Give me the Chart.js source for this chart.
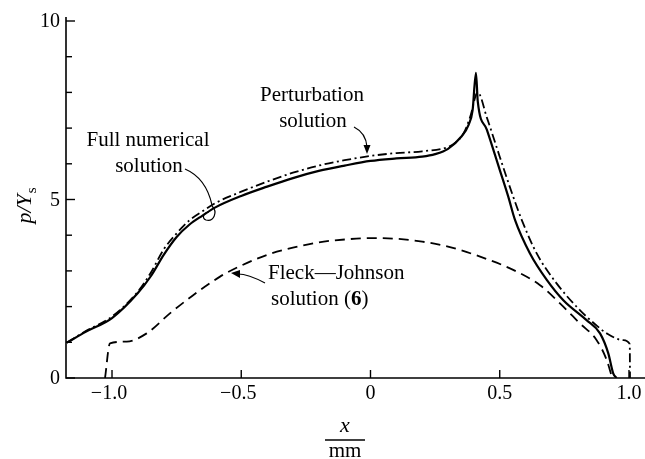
<!DOCTYPE html>
<html>
<head>
<meta charset="utf-8">
<script src="https://cdn.jsdelivr.net/npm/chart.js@4.4.1/dist/chart.umd.min.js"></script>
<style>
html,body{margin:0;padding:0;background:#fff;}
#wrap{width:645px;height:459px;position:relative;}
</style>
</head>
<body>
<div id="wrap"><canvas id="c" width="645" height="459"></canvas></div>
<script>
// ---- data ----
const fullX = [-1.175,-1.1,-1.0,-0.9,-0.85,-0.8,-0.75,-0.7,-0.65,-0.6,-0.5,-0.4,-0.3,-0.2,-0.1,0.0,0.1,0.2,0.25,0.3,0.35,0.38,0.395,0.408,0.415,0.45,0.5,0.533,0.559,0.617,0.682,0.746,0.836,0.888,0.92,0.939,0.952];
const fullY = [0.99,1.3,1.68,2.38,2.85,3.45,3.95,4.3,4.55,4.78,5.1,5.36,5.6,5.8,5.95,6.08,6.15,6.2,6.27,6.42,6.75,7.1,7.5,8.55,7.75,6.96,5.83,5.08,4.43,3.49,2.75,2.18,1.62,1.25,0.69,0.13,0.0];

const pertX = [-1.175,-1.1,-1.0,-0.9,-0.85,-0.8,-0.75,-0.7,-0.65,-0.6,-0.5,-0.4,-0.3,-0.2,-0.1,0.0,0.1,0.2,0.3,0.33,0.36,0.385,0.415,0.45,0.5,0.552,0.585,0.643,0.72,0.81,0.87,0.914,0.978,1.003,1.004];
const pertY = [0.99,1.32,1.72,2.42,2.95,3.6,4.05,4.42,4.67,4.9,5.22,5.5,5.75,5.95,6.1,6.22,6.3,6.35,6.47,6.6,6.85,7.3,8.0,7.3,6.2,5.08,4.43,3.49,2.65,1.9,1.5,1.25,1.06,0.95,0.0];

const fjX = [-1.027,-1.008,-0.943,-0.866,-0.776,-0.686,-0.582,-0.5,-0.4,-0.3,-0.2,-0.1,0.0,0.1,0.2,0.3,0.424,0.552,0.656,0.733,0.81,0.875,0.914,0.935];
const fjY = [0.0,0.97,1.02,1.25,1.81,2.32,2.84,3.15,3.45,3.65,3.8,3.88,3.92,3.9,3.82,3.68,3.4,3.03,2.6,2.09,1.53,1.06,0.5,0.0];

const xTickValues = [-1.0,-0.5,0,0.5,1.0];
const xTickLabels = ['\u22121.0','\u22120.5','0','0.5','1.0'];
const yTickValues = [0,5,10];
const yTickLabels = ['0','5','10'];
const yMinorValues = [1,2,3,4,6,7,8,9];

const pts = (xs, ys) => xs.map((x, i) => ({x: x, y: ys[i]}));

const SERIF = '"Liberation Serif","DejaVu Serif",serif';

const deco = {
  id: 'deco',
  afterDatasetsDraw(chart) {
    const ctx = chart.ctx;
    const xs = chart.scales.x, ys = chart.scales.y;
    const L = xs.left, R = chart.width, B = ys.bottom, T = ys.top;
    ctx.save();
    ctx.strokeStyle = '#000';
    ctx.fillStyle = '#000';
    ctx.lineWidth = 1.6;
    ctx.beginPath();
    ctx.moveTo(L, T - 4); ctx.lineTo(L, B); ctx.lineTo(R, B);
    ctx.stroke();
    ctx.lineWidth = 1.4;
    yTickValues.forEach(v => {
      const p = ys.getPixelForValue(v);
      ctx.beginPath(); ctx.moveTo(L, p); ctx.lineTo(L + 9, p); ctx.stroke();
    });
    yMinorValues.forEach(v => {
      const p = ys.getPixelForValue(v);
      ctx.beginPath(); ctx.moveTo(L, p); ctx.lineTo(L + 6, p); ctx.stroke();
    });
    xTickValues.forEach(v => {
      const p = xs.getPixelForValue(v);
      ctx.beginPath(); ctx.moveTo(p, B); ctx.lineTo(p, B - 8); ctx.stroke();
    });
    ctx.font = '20px ' + SERIF;
    ctx.textAlign = 'right'; ctx.textBaseline = 'middle';
    yTickValues.forEach((v, i) => {
      ctx.fillText(yTickLabels[i], L - 6, ys.getPixelForValue(v) + 1);
    });
    ctx.textAlign = 'center'; ctx.textBaseline = 'alphabetic';
    xTickValues.forEach((v, i) => {
      const lab = xTickLabels[i];
      let dx = 0;
      if (lab.charAt(0) === '\u2212') dx = -3;
      ctx.fillText(lab, xs.getPixelForValue(v) + dx, B + 21);
    });
    ctx.save();
    ctx.translate(31, 206);
    ctx.rotate(-Math.PI / 2);
    ctx.font = 'italic 22px ' + SERIF;
    ctx.textAlign = 'left'; ctx.textBaseline = 'alphabetic';
    const t1 = 'p/Y';
    const w1 = ctx.measureText(t1).width;
    ctx.font = '15px ' + SERIF;
    const w2 = ctx.measureText('s').width;
    const start = -(w1 + w2) / 2;
    ctx.font = 'italic 22px ' + SERIF;
    ctx.fillText(t1, start, 0);
    ctx.font = '15px ' + SERIF;
    ctx.fillText('s', start + w1 + 1, 5);
    ctx.restore();
    const cx = 345;
    ctx.font = 'italic 22px ' + SERIF;
    ctx.textAlign = 'center';
    ctx.fillText('x', cx, 432);
    ctx.lineWidth = 1.3;
    ctx.beginPath(); ctx.moveTo(cx - 20, 440); ctx.lineTo(cx + 20, 440); ctx.stroke();
    ctx.font = '21px ' + SERIF;
    ctx.fillText('mm', cx, 457);

    ctx.font = '21px ' + SERIF;
    ctx.textAlign = 'center';
    ctx.fillText('Full numerical', 148, 146);
    ctx.fillText('solution', 149, 172);
    ctx.fillText('Perturbation', 312, 101);
    ctx.fillText('solution', 313, 127);
    ctx.textAlign = 'left';
    ctx.fillText('Fleck\u2014Johnson', 268, 279);
    const sw = ctx.measureText('solution (').width;
    ctx.fillText('solution (', 271, 305);
    ctx.font = 'bold 21px ' + SERIF;
    const w6 = ctx.measureText('6').width;
    ctx.fillText('6', 271 + sw, 305);
    ctx.font = '21px ' + SERIF;
    ctx.fillText(')', 271 + sw + w6, 305);

    ctx.lineWidth = 1.2;
    ctx.beginPath();
    ctx.moveTo(185, 169);
    ctx.quadraticCurveTo(206, 178, 212, 205);
    ctx.stroke();
    ctx.beginPath();
    ctx.moveTo(212, 206);
    ctx.bezierCurveTo(218, 212, 214, 222, 206, 220);
    ctx.bezierCurveTo(201, 218, 204, 212, 209, 212);
    ctx.stroke();

    ctx.beginPath();
    ctx.moveTo(354, 127);
    ctx.quadraticCurveTo(366, 133, 367, 147);
    ctx.stroke();
    ctx.beginPath();
    ctx.moveTo(363.5, 145); ctx.lineTo(370.5, 145); ctx.lineTo(367, 154); ctx.closePath();
    ctx.fill();

    ctx.beginPath();
    ctx.moveTo(265, 283);
    ctx.quadraticCurveTo(248, 274, 238, 274);
    ctx.stroke();
    ctx.beginPath();
    ctx.moveTo(240, 270); ctx.lineTo(240, 278); ctx.lineTo(231, 273); ctx.closePath();
    ctx.fill();
    ctx.restore();
  }
};

new Chart(document.getElementById('c'), {
  type: 'scatter',
  data: {
    datasets: [
      { label: 'Full numerical solution', data: pts(fullX, fullY), showLine: true,
        borderColor: '#000', borderWidth: 2.2, pointRadius: 0, cubicInterpolationMode: 'monotone', fill: false },
      { label: 'Perturbation solution', data: pts(pertX, pertY), showLine: true,
        borderColor: '#000', borderWidth: 1.8, borderDash: [9, 3.5, 2, 3.5], pointRadius: 0, cubicInterpolationMode: 'monotone', fill: false },
      { label: 'Fleck\u2013Johnson solution (6)', data: pts(fjX, fjY), showLine: true,
        borderColor: '#000', borderWidth: 1.8, borderDash: [10, 6], pointRadius: 0, cubicInterpolationMode: 'monotone', fill: false }
    ]
  },
  options: {
    responsive: false,
    animation: false,
    devicePixelRatio: 1,
    layout: { padding: { left: 66, right: 0, top: 21, bottom: 81 } },
    plugins: { legend: { display: false }, tooltip: { enabled: false } },
    scales: {
      x: { type: 'linear', min: -1.178, max: 1.062, display: false },
      y: { type: 'linear', min: 0, max: 10, display: false }
    }
  },
  plugins: [deco]
});
</script>
</body>
</html>
